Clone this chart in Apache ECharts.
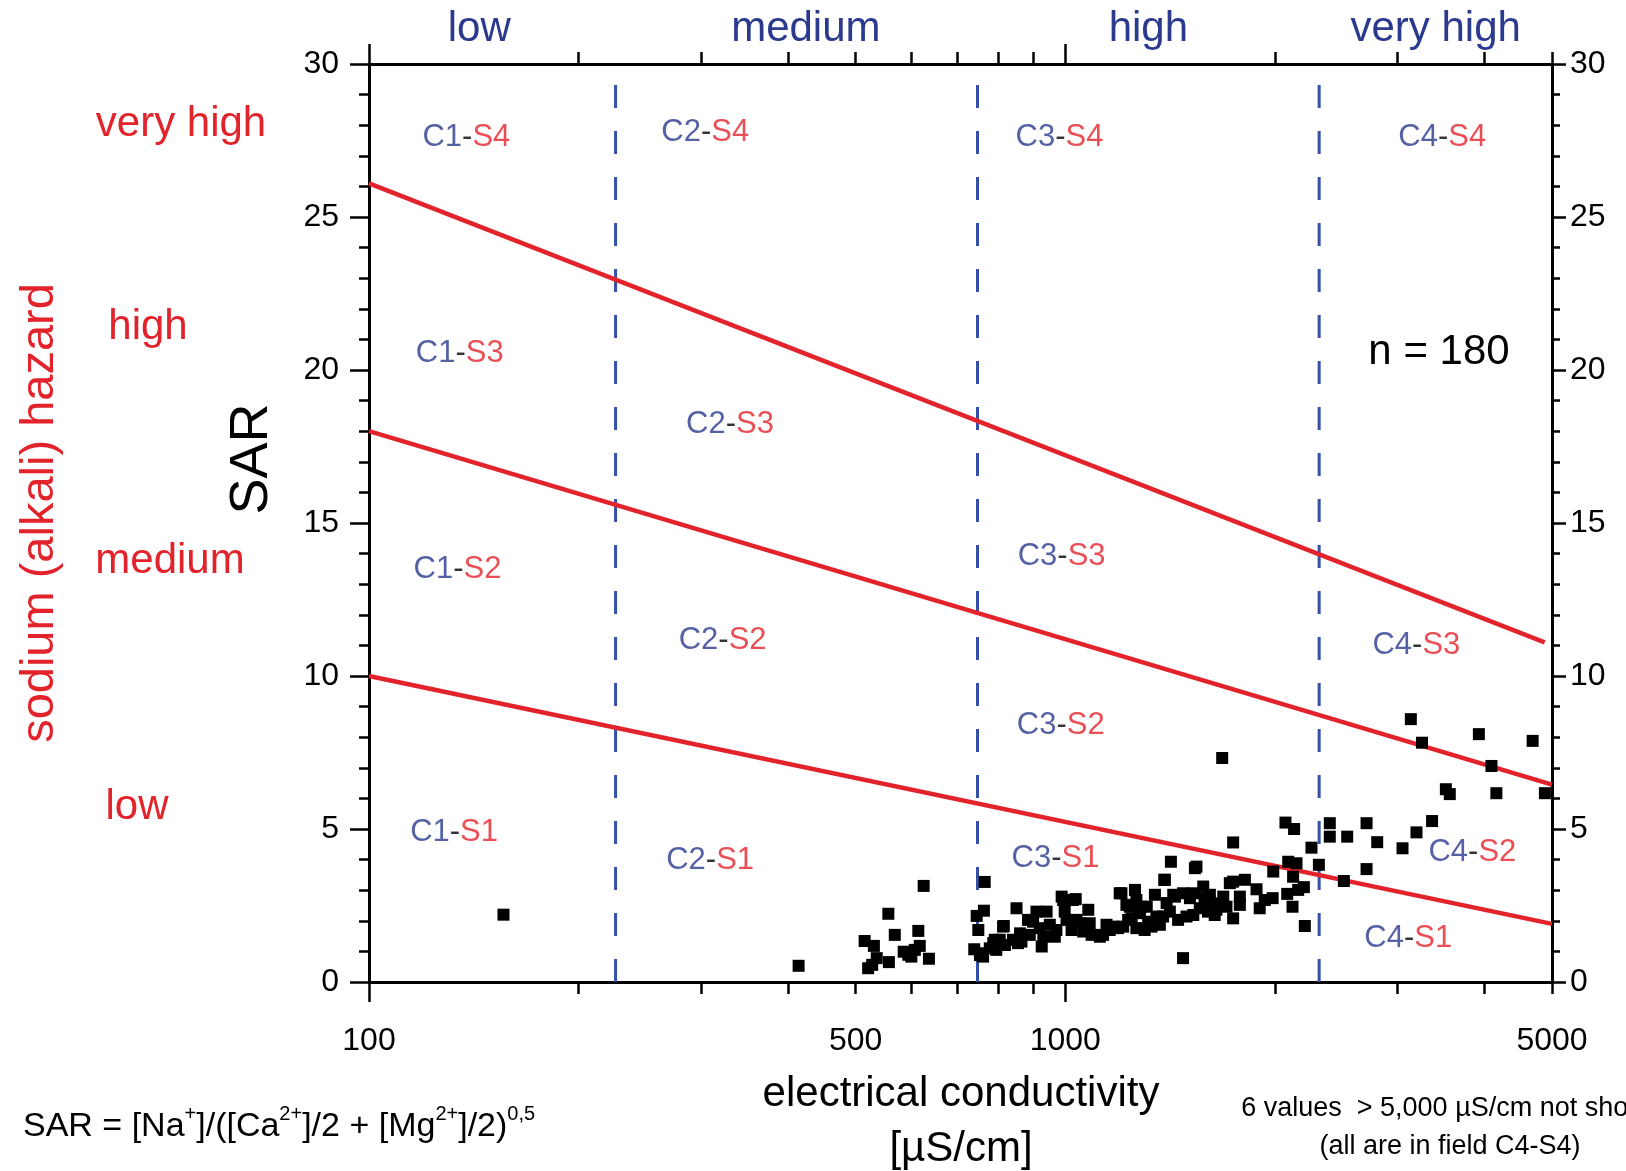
<!DOCTYPE html>
<html>
<head>
<meta charset="utf-8">
<title>SAR vs electrical conductivity</title>
<script src="https://cdn.jsdelivr.net/npm/echarts@6/dist/echarts.min.js"></script>
<style>
  html, body { margin: 0; padding: 0; background: #ffffff; }
  #chart { width: 1626px; height: 1171px; }
</style>
</head>
<body>
<div id="chart"></div>
<script>
// ---- water samples: electrical conductivity [µS/cm] and sodium adsorption ratio ----
const sampleEC = [
  156, 414, 626, 557, 515, 531, 569, 615, 536, 521, 528, 558, 586, 601, 618, 608, 637, 595,
  766, 764, 746, 750, 740, 758, 779, 792, 814, 819, 851, 855, 762, 796, 754, 788, 805, 816,
  865, 889, 909, 940, 899, 925, 930, 950, 966, 988, 998, 1035, 1021, 1049, 1079, 1084, 1091,
  1061, 1133, 1146, 1171, 1204, 1224, 1231, 1211, 1259, 1265, 1280, 1265, 1309, 1315, 1300,
  1345, 1352, 1367, 1398, 1429, 1452, 1413, 1476, 1510, 1527, 1578, 1585, 1560, 1527, 1613,
  1639, 1418, 1543, 1387, 1476, 1121, 1158, 1191, 1245, 1330, 1382, 1493, 1603, 1004, 1038,
  861, 841, 884, 919, 971, 993, 1026, 1197, 1238, 1286, 1390, 1437, 1535,
  2071, 2131, 1742, 2257, 2398, 2398, 2540, 2708, 2805, 2708, 2512, 2313, 2090, 2148, 2124,
  1989, 1742, 1811, 1882, 1985, 1934, 1902, 2083, 2120, 2160, 2201, 2208, 1781, 1781, 1742,
  1704, 1648, 1613, 1686, 1723, 1617, 1648, 1680,
  3135, 3253, 3926, 4690, 4093, 3520, 3566, 4160, 4884, 3363, 3194, 3050
];
const sampleSAR = [
  2.20, 0.53, 3.14, 2.23, 1.34, 1.18, 1.54, 1.67, 0.78, 0.45, 0.56, 0.65, 0.99, 0.83, 1.18, 1.05, 0.76, 0.89,
  3.27, 2.33, 2.16, 1.70, 1.07, 0.94, 1.10, 1.38, 1.81, 1.21, 2.41, 1.27, 0.83, 1.05, 0.88, 1.27, 1.38, 1.83,
  1.32, 1.54, 2.30, 2.30, 1.97, 1.16, 1.48, 1.87, 1.48, 2.79, 2.30, 2.71, 1.70, 1.92, 2.36, 1.92, 1.54,
  1.65, 1.54, 1.87, 1.81, 2.90, 2.52, 2.03, 1.81, 3.01, 2.68, 2.25, 1.76, 2.46, 1.97, 1.70,
  2.85, 2.14, 1.87, 2.58, 2.85, 2.03, 2.30, 2.90, 2.74, 2.90, 3.12, 2.74, 2.41, 2.19, 2.52,
  2.19, 3.93, 3.77, 3.34, 0.78, 1.48, 1.70, 1.76, 2.08, 1.81, 2.14, 2.14, 2.30, 2.03, 2.03,
  1.59, 1.38, 2.03, 1.76, 1.70, 2.68, 2.68, 2.90, 2.46, 2.46, 3.34, 2.79, 3.72,
  5.21, 5.00, 4.56, 4.39, 5.19, 4.75, 4.75, 5.19, 4.57, 3.69, 3.30, 3.83, 3.93, 3.88, 3.44,
  3.61, 3.28, 3.34, 3.03, 2.74, 2.68, 2.41, 2.88, 2.46, 3.01, 3.10, 1.83, 2.79, 2.52, 2.08,
  2.46, 2.36, 2.85, 2.79, 3.23, 2.46, 2.57, 7.32,
  8.59, 7.82, 8.10, 7.88, 7.06, 6.30, 6.14, 6.17, 6.17, 5.26, 4.89, 4.37
];

// ---- sodium hazard class boundaries (EC, SAR end points) ----
const boundaryS1S2 = [[100, 10.0], [5000, 1.9]];
const boundaryS2S3 = [[100, 18.0], [5000, 6.45]];
const boundaryS3S4 = [[100, 26.1], [4880, 11.1]];

// ---- salinity hazard class boundaries [µS/cm] ----
const salinityBounds = [226, 748, 2315];

// ---- class names ----
const salinityClasses = ['low', 'medium', 'high', 'very high'];
const salinityLabelEC = [144, 424, 1316, 3403];
const sodiumClasses = ['very high', 'high', 'medium', 'low'];

const zoneNames = ['C1-S4', 'C2-S4', 'C3-S4', 'C4-S4',
                   'C1-S3', 'C2-S3', 'C3-S3', 'C4-S3',
                   'C1-S2', 'C2-S2', 'C3-S2', 'C4-S2',
                   'C1-S1', 'C2-S1', 'C3-S1', 'C4-S1'];
const zoneEC  = [138, 304, 981, 3478, 135, 330, 988, 3193, 134, 322, 985, 3843, 132.5, 309, 968, 3108];
const zoneSAR = [27.6, 27.76, 27.6, 27.6, 20.54, 18.23, 13.9, 11.0, 13.49, 11.15, 8.37, 4.24, 4.88, 3.97, 4.04, 1.42];

// ---- axis ticks ----
const xMajorTicks = [100, 1000];
const xMinorTicks = [200, 300, 400, 500, 600, 700, 800, 900, 2000, 3000, 4000, 5000];
const xTickLabels = [100, 500, 1000, 5000];

const FONT = '"Liberation Sans", Arial, Helvetica, sans-serif';
const BLUE = '#2b3a8f';
const RED = '#e3232b';
const DASH_BLUE = '#3550a6';
const INK = '#000000';

const chart = echarts.init(document.getElementById('chart'), null, { renderer: 'canvas' });

const samples = sampleEC.map((ec, i) => [ec, sampleSAR[i]]);
const zoneData = zoneNames.map((n, i) => ({ name: n, value: [zoneEC[i], zoneSAR[i]] }));

const xBase = {
  type: 'log', logBase: 10, min: 100, max: 5000, gridIndex: 0,
  splitLine: { show: false }, minorTick: { show: false }, minorSplitLine: { show: false }
};
const tickStyle = { color: INK, width: 2.5 };

function nearestIndex(list, v) {
  let best = 0, bd = Infinity;
  list.forEach((e, i) => { const d = Math.abs(Math.log(e) - Math.log(v)); if (d < bd) { bd = d; best = i; } });
  return best;
}

const option = {
  backgroundColor: '#ffffff',
  animation: false,
  grid: { left: 369, right: 74, top: 64, bottom: 189, containLabel: false, outerBoundsMode: 'none' },
  xAxis: [
    { ...xBase, position: 'bottom',
      axisLine: { show: true, lineStyle: { color: INK, width: 3 } },
      axisTick: { show: true, customValues: xMajorTicks, length: 20, lineStyle: tickStyle },
      axisLabel: { show: true, customValues: xTickLabels, margin: 43, fontSize: 32, color: INK, fontFamily: FONT,
                   formatter: v => String(Math.round(v)) } },
    { ...xBase, position: 'bottom',
      axisLine: { show: false },
      axisTick: { show: true, customValues: xMinorTicks, length: 12, lineStyle: tickStyle },
      axisLabel: { show: false } },
    { ...xBase, position: 'top',
      axisLine: { show: true, lineStyle: { color: INK, width: 3 } },
      axisTick: { show: true, customValues: xMajorTicks, length: 20, lineStyle: tickStyle },
      axisLabel: { show: true, customValues: salinityLabelEC, margin: 14, fontSize: 42, color: BLUE, fontFamily: FONT,
                   formatter: v => salinityClasses[nearestIndex(salinityLabelEC, v)] } },
    { ...xBase, position: 'top',
      axisLine: { show: false },
      axisTick: { show: true, customValues: xMinorTicks, length: 12, lineStyle: tickStyle },
      axisLabel: { show: false } }
  ],
  yAxis: [
    { type: 'value', min: 0, max: 30, interval: 5, position: 'left',
      axisLine: { show: true, lineStyle: { color: INK, width: 3 } },
      axisTick: { show: true, length: 19, lineStyle: tickStyle },
      minorTick: { show: true, splitNumber: 5, length: 10, lineStyle: tickStyle },
      axisLabel: { margin: 30, fontSize: 32, color: INK, fontFamily: FONT },
      splitLine: { show: false } },
    { type: 'value', min: 0, max: 30, interval: 5, position: 'right',
      axisLine: { show: true, lineStyle: { color: INK, width: 3 } },
      axisTick: { show: true, length: 14, lineStyle: tickStyle },
      minorTick: { show: true, splitNumber: 5, length: 8, lineStyle: tickStyle },
      axisLabel: { margin: 18, fontSize: 32, color: INK, fontFamily: FONT },
      splitLine: { show: false } }
  ],
  series: [
    ...salinityBounds.map(b => ({
      type: 'line', xAxisIndex: 0, yAxisIndex: 0, data: [[b, 0], [b, 30]],
      symbol: 'none', silent: true, z: 2,
      lineStyle: { color: DASH_BLUE, width: 3, type: [23, 23] }
    })),
    ...[boundaryS1S2, boundaryS2S3, boundaryS3S4].map(seg => ({
      type: 'line', xAxisIndex: 0, yAxisIndex: 0, data: seg,
      symbol: 'none', silent: true, z: 3,
      lineStyle: { color: RED, width: 4.5 }
    })),
    {
      type: 'scatter', xAxisIndex: 0, yAxisIndex: 0, data: zoneData,
      symbolSize: 1, itemStyle: { color: 'transparent' }, silent: true, z: 4,
      label: {
        show: true, position: 'inside', fontFamily: FONT, fontSize: 31,
        formatter: p => {
          const [c, s] = p.name.split('-');
          return '{c|' + c + '}{d|-}{s|' + s + '}';
        },
        rich: {
          c: { color: BLUE, fontSize: 31, fontFamily: FONT },
          d: { color: INK, fontSize: 31, fontFamily: FONT },
          s: { color: RED, fontSize: 31, fontFamily: FONT }
        }
      }
    },
    {
      type: 'scatter', xAxisIndex: 0, yAxisIndex: 0, data: samples,
      symbol: 'rect', symbolSize: 12, itemStyle: { color: INK, opacity: 1 }, z: 5, clip: true
    }
  ],
  graphic: [
    // sodium (alkali) hazard classes on the left
    { type: 'text', x: 181, y: 124, style: { text: sodiumClasses[0], fill: RED, fontSize: 42, fontFamily: FONT, align: 'center', verticalAlign: 'middle' } },
    { type: 'text', x: 148, y: 327, style: { text: sodiumClasses[1], fill: RED, fontSize: 42, fontFamily: FONT, align: 'center', verticalAlign: 'middle' } },
    { type: 'text', x: 170, y: 561, style: { text: sodiumClasses[2], fill: RED, fontSize: 42, fontFamily: FONT, align: 'center', verticalAlign: 'middle' } },
    { type: 'text', x: 137, y: 807, style: { text: sodiumClasses[3], fill: RED, fontSize: 42, fontFamily: FONT, align: 'center', verticalAlign: 'middle' } },
    { type: 'text', x: 40, y: 513, rotation: Math.PI / 2,
      style: { text: 'sodium (alkali) hazard', fill: RED, fontSize: 47, fontFamily: FONT, align: 'center', verticalAlign: 'middle' } },
    // axis titles
    { type: 'text', x: 252, y: 459, rotation: Math.PI / 2,
      style: { text: 'SAR', fill: INK, fontSize: 54, fontFamily: FONT, align: 'center', verticalAlign: 'middle' } },
    { type: 'text', x: 961, y: 1094,
      style: { text: 'electrical conductivity', fill: INK, fontSize: 42, fontFamily: FONT, align: 'center', verticalAlign: 'middle' } },
    { type: 'text', x: 961, y: 1149,
      style: { text: '[\u00b5S/cm]', fill: INK, fontSize: 42, fontFamily: FONT, align: 'center', verticalAlign: 'middle' } },
    // sample count
    { type: 'text', x: 1439, y: 352,
      style: { text: 'n = 180', fill: INK, fontSize: 42, fontFamily: FONT, align: 'center', verticalAlign: 'middle' } },
    // SAR definition
    { type: 'text', x: 23, y: 1127,
      style: {
        text: 'SAR = [Na{sup|+}]/([Ca{sup|2+}]/2 + [Mg{sup|2+}]/2){sup|0,5}',
        fill: INK, fontSize: 34, fontFamily: FONT, align: 'left', verticalAlign: 'middle', lineHeight: 46,
        rich: { sup: { fontSize: 20, fontFamily: FONT, fill: INK, verticalAlign: 'top', lineHeight: 20 } }
      } },
    // note on samples beyond the axis range
    { type: 'text', x: 1452, y: 1109,
      style: { text: '6 values  > 5,000 \u00b5S/cm not shown', fill: INK, fontSize: 27, fontFamily: FONT, align: 'center', verticalAlign: 'middle' } },
    { type: 'text', x: 1450, y: 1147,
      style: { text: '(all are in field C4-S4)', fill: INK, fontSize: 27, fontFamily: FONT, align: 'center', verticalAlign: 'middle' } }
  ]
};

chart.setOption(option);
</script>
</body>
</html>
